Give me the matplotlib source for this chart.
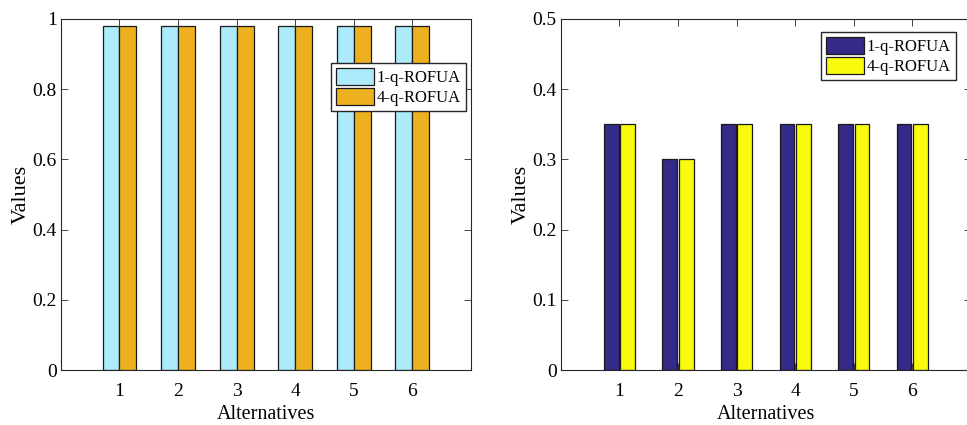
import matplotlib.pyplot as plt
import numpy as np

plt.rcParams['font.family'] = ['Liberation Serif', 'DejaVu Serif']

# data
alternatives = [1, 2, 3, 4, 5, 6]
left_1q = [0.98, 0.98, 0.98, 0.98, 0.98, 0.98]
left_4q = [0.98, 0.98, 0.98, 0.98, 0.98, 0.98]
right_1q = [0.35, 0.30, 0.35, 0.35, 0.35, 0.35]
right_4q = [0.35, 0.30, 0.35, 0.35, 0.35, 0.35]
labels = ['1-q-ROFUA', '4-q-ROFUA']

fig = plt.figure(figsize=(9.67, 4.25), dpi=100)
ax1 = fig.add_axes([0.063, 0.1294, 0.424, 0.826])
ax2 = fig.add_axes([0.580, 0.1294, 0.424, 0.826])

x = np.array(alternatives)


def style(ax, ymax, yticks, yticklabels):
    ax.set_xlim(0, 7)
    ax.set_ylim(0, ymax)
    ax.set_xticks(alternatives)
    ax.set_yticks(yticks)
    ax.set_yticklabels(yticklabels)
    ax.tick_params(direction='in', top=True, right=True, labelsize=14,
                   length=5, width=0.6, color='#262626')
    ax.tick_params(axis='x', pad=9)
    ax.tick_params(axis='y', pad=3)
    for s in ax.spines.values():
        s.set_linewidth(0.8)
        s.set_color('#262626')
    ax.set_xlabel('Alternatives', fontsize=14.5, labelpad=4)
    ax.set_ylabel('Values', fontsize=16, labelpad=1)


def add_legend(ax, anchor):
    ax.legend(loc='upper right', bbox_to_anchor=anchor, fontsize=12,
              fancybox=False, edgecolor='#262626', framealpha=1,
              handlelength=2.3, handleheight=1.2, handletextpad=0.15,
              borderpad=0.3, labelspacing=0.1, borderaxespad=0)


# left panel
w = 0.29
ax1.bar(x - w / 2, left_1q, w, color='#ADEBFB', edgecolor='#1a1a1a', linewidth=0.9, label=labels[0])
ax1.bar(x + w / 2, left_4q, w, color='#EDB120', edgecolor='#1a1a1a', linewidth=0.9, label=labels[1])
style(ax1, 1, [0, 0.2, 0.4, 0.6, 0.8, 1], ['0', '0.2', '0.4', '0.6', '0.8', '1'])
add_legend(ax1, (0.988, 0.874))

# right panel
w2 = 0.25
off = 0.14
ax2.bar(x - off, right_1q, w2, color='#352A87', edgecolor='#1a1a1a', linewidth=0.9, label=labels[0])
ax2.bar(x + off, right_4q, w2, color='#F9FB0E', edgecolor='#1a1a1a', linewidth=0.9, label=labels[1])
style(ax2, 0.5, [0, 0.1, 0.2, 0.3, 0.4, 0.5], ['0', '0.1', '0.2', '0.3', '0.4', '0.5'])
add_legend(ax2, (0.963, 0.963))

fig.savefig('out.png', dpi=100)
